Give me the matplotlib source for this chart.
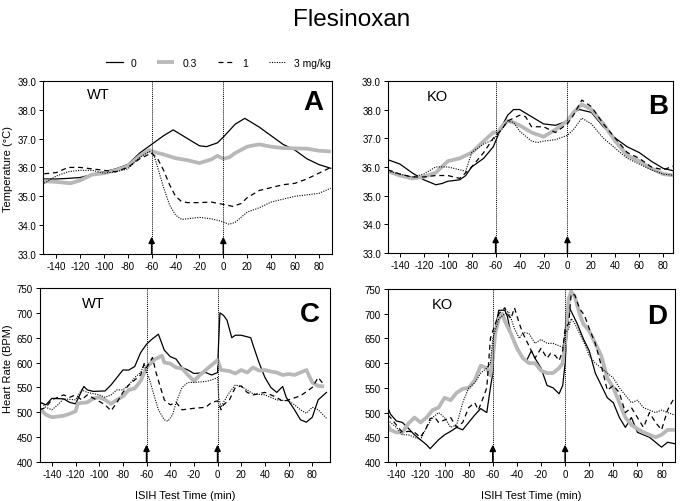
import matplotlib
matplotlib.use("Agg")
import matplotlib.pyplot as plt
from matplotlib.lines import Line2D

plt.rcParams['font.family'] = ['Liberation Sans', 'DejaVu Sans']
plt.rcParams['axes.unicode_minus'] = False

doses = ["0", "0.3", "1", "3 mg/kg"]

# ---- panel A: temperature, WT ----
a_t0 = [-150, -140, -130, -120, -110, -100, -90, -80, -70, -60, -50, -42, -30, -20, -14, -5, 0, 10, 18, 30, 40, 50, 60, 70, 80, 90]
a_v0 = [35.6, 35.6, 35.62, 35.65, 35.75, 35.85, 35.95, 36.1, 36.5, 36.8, 37.1, 37.3, 37.0, 36.75, 36.72, 36.85, 37.05, 37.5, 37.7, 37.4, 37.1, 36.8, 36.6, 36.3, 36.1, 35.97]
a_t1 = [-150, -140, -128, -120, -110, -100, -90, -80, -70, -62, -55, -50, -40, -30, -20, -10, -5, 0, 5, 10, 20, 30, 40, 50, 60, 70, 80, 90]
a_v1 = [35.52, 35.5, 35.45, 35.55, 35.75, 35.8, 35.9, 36.05, 36.4, 36.6, 36.5, 36.45, 36.32, 36.25, 36.15, 36.28, 36.4, 36.3, 36.35, 36.5, 36.72, 36.8, 36.72, 36.67, 36.66, 36.65, 36.58, 36.55]
a_t2 = [-150, -140, -130, -120, -110, -100, -90, -80, -70, -60, -55, -50, -45, -40, -35, -30, -20, -10, 0, 8, 15, 20, 30, 40, 50, 60, 70, 80, 90]
a_v2 = [35.78, 35.82, 36.0, 36.0, 35.95, 35.9, 35.85, 36.0, 36.3, 36.5, 36.3, 35.9, 35.4, 35.0, 34.82, 34.78, 34.78, 34.8, 34.72, 34.65, 34.75, 34.95, 35.2, 35.3, 35.4, 35.45, 35.6, 35.8, 36.0]
a_t3 = [-150, -140, -130, -120, -110, -100, -90, -80, -70, -62, -58, -55, -50, -45, -40, -35, -30, -20, -10, -3, 5, 10, 20, 30, 40, 50, 60, 70, 80, 90]
a_v3 = [35.45, 35.7, 35.85, 35.9, 35.9, 35.8, 35.85, 35.95, 36.35, 36.55, 36.4, 36.0, 35.3, 34.7, 34.35, 34.2, 34.22, 34.27, 34.22, 34.15, 34.03, 34.1, 34.45, 34.6, 34.8, 34.9, 35.0, 35.05, 35.1, 35.28]

# ---- panel B: temperature, KO ----
b_t0 = [-150, -140, -130, -120, -110, -105, -100, -90, -85, -80, -70, -62, -55, -50, -45, -40, -30, -20, -10, 0, 5, 10, 20, 30, 40, 50, 60, 70, 80, 90]
b_v0 = [36.25, 36.1, 35.8, 35.55, 35.38, 35.42, 35.5, 35.55, 35.7, 36.0, 36.3, 36.7, 37.4, 37.8, 38.0, 38.0, 37.75, 37.5, 37.45, 37.6, 37.9, 38.0, 37.9, 37.4, 37.0, 36.7, 36.5, 36.2, 35.95, 35.85]
b_t1 = [-150, -140, -130, -120, -110, -100, -90, -80, -70, -62, -58, -55, -50, -45, -40, -30, -20, -10, 0, 5, 12, 20, 30, 40, 50, 60, 70, 80, 90]
b_v1 = [35.85, 35.7, 35.6, 35.65, 35.8, 36.2, 36.3, 36.5, 36.9, 37.2, 37.2, 37.4, 37.6, 37.55, 37.45, 37.2, 37.05, 37.3, 37.6, 37.9, 38.18, 38.0, 37.5, 36.9, 36.4, 36.2, 35.95, 35.75, 35.7]
b_t2 = [-150, -140, -130, -120, -110, -100, -90, -80, -70, -62, -55, -50, -40, -35, -30, -20, -10, 0, 5, 12, 20, 30, 40, 50, 60, 70, 80, 90]
b_v2 = [35.9, 35.75, 35.65, 35.65, 35.7, 35.7, 35.6, 36.0, 36.5, 37.0, 37.3, 37.6, 37.8, 37.75, 37.4, 37.4, 37.2, 37.5, 37.8, 38.33, 38.1, 37.5, 37.0, 36.5, 36.3, 36.0, 35.9, 36.05]
b_t3 = [-150, -140, -130, -120, -110, -100, -90, -85, -80, -70, -62, -55, -50, -45, -40, -30, -25, -20, -10, 0, 5, 12, 20, 30, 40, 50, 60, 70, 80, 90]
b_v3 = [35.85, 35.75, 35.65, 35.75, 36.0, 36.0, 35.9, 35.85, 36.5, 36.8, 36.95, 37.3, 37.6, 37.55, 37.25, 36.9, 36.85, 36.9, 36.95, 37.1, 37.3, 37.7, 37.5, 37.0, 36.65, 36.3, 36.1, 35.9, 35.75, 35.7]

# ---- panel C: heart rate, WT ----
c_t0 = [-150, -145, -140, -130, -125, -120, -113, -110, -105, -95, -90, -80, -75, -70, -65, -60, -55, -50, -45, -40, -35, -30, -25, -20, -10, -5, 0, 0.5, 2, 5, 8, 12, 15, 20, 28, 30, 35, 40, 45, 50, 55, 58, 65, 70, 75, 80, 85, 92]
c_v0 = [520, 515, 528, 527, 520, 517, 552, 545, 542, 543, 555, 585, 585, 592, 620, 637, 648, 657, 625, 612, 607, 590, 585, 578, 580, 575, 580, 620, 700, 695, 685, 650, 655, 655, 650, 635, 600, 570, 550, 540, 552, 530, 505, 485, 480, 490, 525, 540]
c_t1 = [-150, -145, -140, -130, -125, -120, -118, -110, -105, -100, -95, -90, -85, -80, -75, -70, -65, -60, -57, -55, -52, -50, -47, -45, -40, -35, -30, -25, -20, -15, -10, -5, 0, 3, 10, 15, 20, 25, 30, 35, 40, 45, 50, 55, 60, 65, 70, 75, 80, 85, 90]
c_v1 = [507, 495, 490, 493, 497, 502, 518, 520, 528, 530, 525, 517, 525, 532, 545, 548, 563, 590, 597, 603, 608, 610, 614, 600, 598, 590, 588, 575, 563, 575, 585, 595, 605, 585, 583, 578, 585, 580, 590, 584, 585, 582, 580, 575, 577, 575, 580, 585, 560, 553, 552]
c_t2 = [-150, -145, -140, -130, -125, -120, -115, -110, -100, -95, -90, -85, -80, -75, -70, -65, -62, -60, -55, -52, -48, -45, -40, -35, -30, -20, -10, -5, 0, 3, 5, 10, 15, 20, 25, 30, 40, 50, 55, 60, 70, 80, 85, 90]
c_v2 = [505, 510, 525, 535, 530, 535, 525, 535, 522, 515, 503, 520, 540, 555, 565, 575, 598, 590, 610, 580, 548, 525, 515, 520, 505, 508, 510, 520, 523, 505, 515, 525, 550, 553, 540, 535, 540, 530, 522, 525, 533, 550, 570, 555]
c_t3 = [-150, -145, -140, -135, -130, -120, -115, -110, -100, -95, -90, -85, -80, -75, -70, -65, -62, -60, -58, -55, -50, -45, -42, -38, -35, -30, -25, -20, -10, -5, 0, 1, 3, 5, 10, 15, 20, 25, 30, 40, 50, 60, 65, 70, 75, 80, 85, 92]
c_v3 = [522, 510, 505, 515, 527, 525, 545, 540, 535, 530, 535, 545, 545, 555, 570, 580, 597, 580, 570, 545, 505, 485, 482, 495, 520, 550, 560, 560, 562, 565, 570, 530, 510, 520, 540, 555, 552, 545, 537, 535, 525, 523, 515, 505, 498, 510, 505, 488]

# ---- panel D: heart rate, KO ----
d_t0 = [-147, -145, -140, -135, -130, -125, -120, -115, -112, -110, -105, -100, -95, -90, -85, -80, -75, -70, -65, -62, -60, -58, -55, -50, -48, -45, -40, -35, -32, -28, -25, -20, -15, -10, -5, -2, 0, 2, 4, 6, 10, 15, 20, 25, 30, 35, 40, 45, 50, 55, 60, 65, 70, 75, 80, 85, 91]
d_v0 = [510, 497, 483, 480, 468, 455, 445, 435, 427, 432, 445, 455, 462, 470, 465, 480, 495, 508, 500, 550, 580, 670, 707, 707, 695, 660, 635, 610, 605, 625, 610, 590, 555, 550, 538, 555, 600, 680, 710, 700, 680, 650, 625, 580, 555, 530, 520, 490, 470, 490, 460, 455, 450, 440, 430, 440, 437]
d_t1 = [-147, -145, -140, -135, -130, -125, -120, -115, -110, -105, -100, -95, -90, -85, -80, -75, -70, -65, -62, -60, -58, -55, -52, -50, -45, -40, -35, -30, -25, -20, -15, -10, -5, -2, 0, 3, 5, 8, 12, 15, 20, 25, 30, 35, 40, 45, 50, 55, 60, 65, 70, 75, 80, 85, 91]
d_v1 = [475, 465, 460, 460, 478, 490, 480, 490, 505, 510, 530, 525, 540, 548, 550, 565, 595, 590, 575, 610, 660, 690, 700, 685, 660, 630, 610, 600, 600, 585, 580, 580, 590, 600, 640, 730, 745, 735, 700, 680, 665, 640, 615, 570, 550, 520, 490, 475, 467, 460, 455, 450, 455, 465, 465]
d_t2 = [-147, -145, -140, -135, -130, -125, -120, -115, -112, -108, -105, -100, -95, -90, -85, -80, -75, -72, -68, -65, -62, -60, -55, -50, -48, -45, -42, -38, -35, -30, -25, -20, -15, -12, -8, -5, -2, 0, 3, 5, 8, 12, 16, 20, 25, 30, 35, 40, 45, 50, 55, 60, 65, 70, 75, 80, 85, 91]
d_v2 = [495, 490, 475, 460, 462, 460, 450, 470, 488, 490, 480, 485, 490, 470, 480, 510, 520, 505, 530, 550, 650, 665, 700, 712, 700, 690, 712, 680, 660, 635, 610, 630, 610, 620, 615, 605, 625, 670, 680, 740, 738, 710, 697, 670, 640, 595, 545, 555, 540, 500, 510, 490, 470, 500, 480, 465, 505, 532]
d_t3 = [-147, -145, -140, -135, -130, -125, -120, -115, -110, -105, -100, -95, -90, -85, -80, -75, -70, -65, -62, -60, -55, -50, -47, -42, -38, -35, -30, -25, -20, -15, -10, -5, -2, 0, 3, 5, 8, 12, 16, 20, 25, 30, 35, 40, 45, 50, 55, 60, 65, 70, 75, 80, 85, 91]
d_v3 = [485, 480, 470, 455, 455, 450, 445, 470, 490, 500, 490, 470, 475, 520, 550, 560, 580, 590, 600, 650, 690, 700, 705, 670, 650, 662, 660, 640, 648, 640, 640, 635, 632, 660, 670, 690, 680, 660, 640, 615, 600, 590, 580, 570, 550, 535, 520, 525, 510, 505, 500, 505, 500, 495]

x_ticks = [-140, -120, -100, -80, -60, -40, -20, 0, 20, 40, 60, 80]
temp_ticks = [33.0, 34.0, 35.0, 36.0, 37.0, 38.0, 39.0]
hr_ticks = [400, 450, 500, 550, 600, 650, 700, 750]
inject_times = [-60, 0]

styles = [
    dict(color="black", lw=0.9, ls="-"),
    dict(color="#b8b8b8", lw=2.7, ls="-", solid_capstyle="butt"),
    dict(color="black", lw=0.9, ls=(0, (4, 3))),
    dict(color="black", lw=0.8, ls=(0, (1, 1.2))),
]


def draw_panel(ax, series, xlim, ylim, yticks, yfmt, group, letter, gpos, lpos):
    for (t, v), st in zip(series, styles):
        ax.plot(t, v, **st)
    for x in inject_times:
        ax.axvline(x, color="black", lw=0.7, ls=(0, (1, 1)))
        ax.annotate("", xy=(x, 0.1), xycoords=("data", "axes fraction"),
                    xytext=(x, 0.0), textcoords=("data", "axes fraction"),
                    arrowprops=dict(arrowstyle="-|>", color="black", lw=1.1,
                                    mutation_scale=9, shrinkA=0, shrinkB=0))
    ax.set_xlim(*xlim)
    ax.set_ylim(*ylim)
    ax.set_xticks(x_ticks)
    ax.set_yticks(yticks)
    ax.set_yticklabels([yfmt.format(y) for y in yticks])
    ax.tick_params(labelsize=7, length=3, width=0.7, direction="out", pad=2)
    for s in ax.spines.values():
        s.set_linewidth(0.8)
    ax.text(gpos[0], gpos[1], group, transform=ax.transAxes, fontsize=10.5,
            ha="center", va="center")
    ax.text(lpos[0], lpos[1], letter, transform=ax.transAxes, fontsize=20,
            fontweight="bold", ha="center", va="center")


fig = plt.figure(figsize=(6.83, 5.02), dpi=100)
ax_a = fig.add_axes([0.063, 0.492, 0.423, 0.345])
ax_b = fig.add_axes([0.568, 0.494, 0.417, 0.343])
ax_c = fig.add_axes([0.0586, 0.0777, 0.4246, 0.3466])
ax_d = fig.add_axes([0.568, 0.0777, 0.420, 0.3446])

draw_panel(ax_a, [(a_t0, a_v0), (a_t1, a_v1), (a_t2, a_v2), (a_t3, a_v3)],
           (-151, 91), (33, 39), temp_ticks, "{:.1f}", "WT", "A", (0.19, 0.925), (0.934, 0.88))
draw_panel(ax_b, [(b_t0, b_v0), (b_t1, b_v1), (b_t2, b_v2), (b_t3, b_v3)],
           (-150, 88), (33, 39), temp_ticks, "{:.1f}", "KO", "B", (0.175, 0.913), (0.947, 0.855))
draw_panel(ax_c, [(c_t0, c_v0), (c_t1, c_v1), (c_t2, c_v2), (c_t3, c_v3)],
           (-150, 95), (400, 750), hr_ticks, "{:d}", "WT", "C", (0.183, 0.914), (0.931, 0.85))
draw_panel(ax_d, [(d_t0, d_v0), (d_t1, d_v1), (d_t2, d_v2), (d_t3, d_v3)],
           (-147, 91), (400, 750), hr_ticks, "{:d}", "KO", "D", (0.188, 0.913), (0.94, 0.844))

ax_c.set_xlabel("ISIH Test Time (min)", fontsize=8, labelpad=8)
ax_d.set_xlabel("ISIH Test Time (min)", fontsize=8, labelpad=8)
fig.text(0.012, 0.664, "Temperature (\u00b0C)", rotation=90, fontsize=8, ha="center", va="center")
fig.text(0.012, 0.265, "Heart Rate (BPM)", rotation=90, fontsize=8, ha="center", va="center")

fig.suptitle("Flesinoxan", x=0.515, y=0.983, fontsize=17.5, va="top")

handles = [Line2D([], [], **st) for st in styles]
fig.legend(handles, doses, loc="center", bbox_to_anchor=(0.32, 0.873), ncol=4,
           frameon=False, fontsize=7.5, handlelength=1.6, columnspacing=2.0, handletextpad=0.8)

fig.savefig("out.png", dpi=100)
